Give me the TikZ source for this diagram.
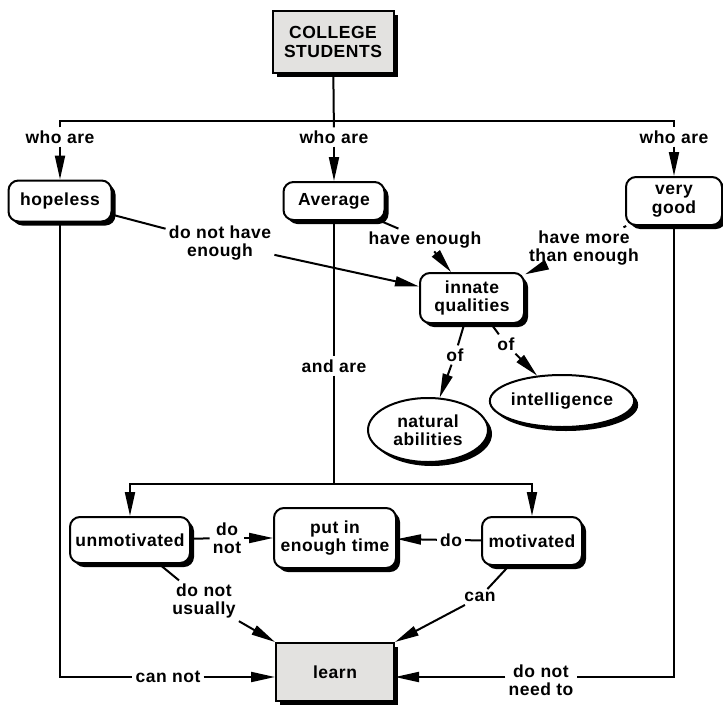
\documentclass[tikz,border=0pt]{standalone}
\usepackage{fontspec}
\setmainfont{Liberation Sans}[LetterSpace=3]
\usetikzlibrary{arrows.meta,shadows,shapes.geometric,positioning}
\definecolor{boxgray}{RGB}{227,226,224}

\begin{document}
\begin{tikzpicture}[x=1pt,y=-1pt,
    >={Triangle[length=24pt,width=10pt]},
    font=\fontsize{17.5}{18.5}\selectfont\bfseries]
\useasboundingbox (0,0) rectangle (723,707);

\begin{scope}[every node/.style={draw,line width=2pt,rounded corners=10pt,fill=white,
              align=center,inner sep=2pt,
              drop shadow={shadow xshift=4pt,shadow yshift=-4pt,fill=black,opacity=1}}]
    \node[sharp corners,fill=boxgray,minimum width=121pt,minimum height=62pt] (cs) at (333,42) {COLLEGE\\STUDENTS};
    \node[minimum width=103pt,minimum height=41pt] (hopeless) at (60,201) {hopeless};
    \node[minimum width=101pt,minimum height=38pt] (average) at (334,201) {Average};
    \node[minimum width=96pt,minimum height=48pt] (verygood) at (674,201) {very\\good};
    \node[minimum width=104pt,minimum height=50pt] (innate) at (472,298) {innate\\qualities};
    \node[ellipse,sharp corners,inner sep=0pt,minimum width=120pt,minimum height=64pt] (natural) at (428,430) {natural\\abilities};
    \node[ellipse,sharp corners,inner sep=0pt,minimum width=134pt,minimum height=52pt] (intelligence) at (562,401) {intelligence};
    \node[minimum width=120pt,minimum height=46pt] (unmotivated) at (130,540) {unmotivated};
    \node[minimum width=122pt,minimum height=60pt] (putin) at (335,538) {put in\\enough time};
    \node[minimum width=100pt,minimum height=48pt] (motivated) at (532,541) {motivated};
    \node[sharp corners,fill=boxgray,minimum width=118pt,minimum height=58pt] (learn) at (335,672) {learn};
\end{scope}

\begin{scope}[every node/.style={align=center,inner sep=3pt}]
    \node (who1) at (60,137) {who are};
    \node (who2) at (334,137) {who are};
    \node (who3) at (674,137) {who are};
    \node (dnhe) at (220,243) {do not have\\enough};
    \node (he) at (425,240) {have enough};
    \node (hmte) at (584,248) {have more\\than enough};
    \node (of1) at (455,355) {of};
    \node (of2) at (506,344) {of};
    \node (andare) at (334,366) {and are};
    \node (dn) at (227,538) {do\\not};
    \node (do) at (451,540) {do};
    \node (dnu) at (204,601) {do not\\usually};
    \node (can) at (480,597) {can};
    \node (cannot) at (168,677) {can not};
    \node (dnnt) at (541,680) {do not\\need to};
\end{scope}

\coordinate (hub) at (334,121);
\coordinate (mid) at (334,484);
\coordinate (cnl) at (60,677);
\coordinate (cnr) at (674,677);

\begin{scope}[line width=2pt,every edge/.style={draw,line width=2pt}]
    \draw (cs) -- (who2);
    \draw (who1) |- (hub) -| (who3);
    \path [->] (who1) edge (hopeless);
    \path [->] (who2) edge (average);
    \path [->] (who3) edge (verygood);
    \path [-] (hopeless) edge (dnhe);
    \path [->] (dnhe) edge (innate);
    \path [-] (average) edge (he);
    \path [->] (he) edge (innate);
    \path [-] (verygood) edge (hmte);
    \path [->] (hmte) edge (innate);
    \path [-] (innate) edge (of1);
    \path [->] (of1) edge (natural);
    \path [-] (innate) edge (of2);
    \path [->] (of2) edge (intelligence);
    \draw (average) -- (andare);
    \draw (andare) -- (mid);
    \draw[<->] (unmotivated) |- (mid) -| (motivated);
    \path [-] (unmotivated) edge (dn);
    \path [->] (dn) edge (putin);
    \path [-] (motivated) edge (do);
    \path [->] (do) edge (putin);
    \path [-] (unmotivated) edge (dnu);
    \path [->] (dnu) edge (learn.north west);
    \path [-] (motivated) edge (can);
    \path [->] (can) edge (learn.north east);
    \draw (hopeless) -- (cnl) -- (cannot);
    \draw[->] (cannot) -- (cannot -| learn.west);
    \draw (verygood) -- (cnr) -- (cnr -| dnnt.east);
    \draw[->] (cnr -| dnnt.west) -- (cnr -| learn.east);
\end{scope}
\end{tikzpicture}
\end{document}
